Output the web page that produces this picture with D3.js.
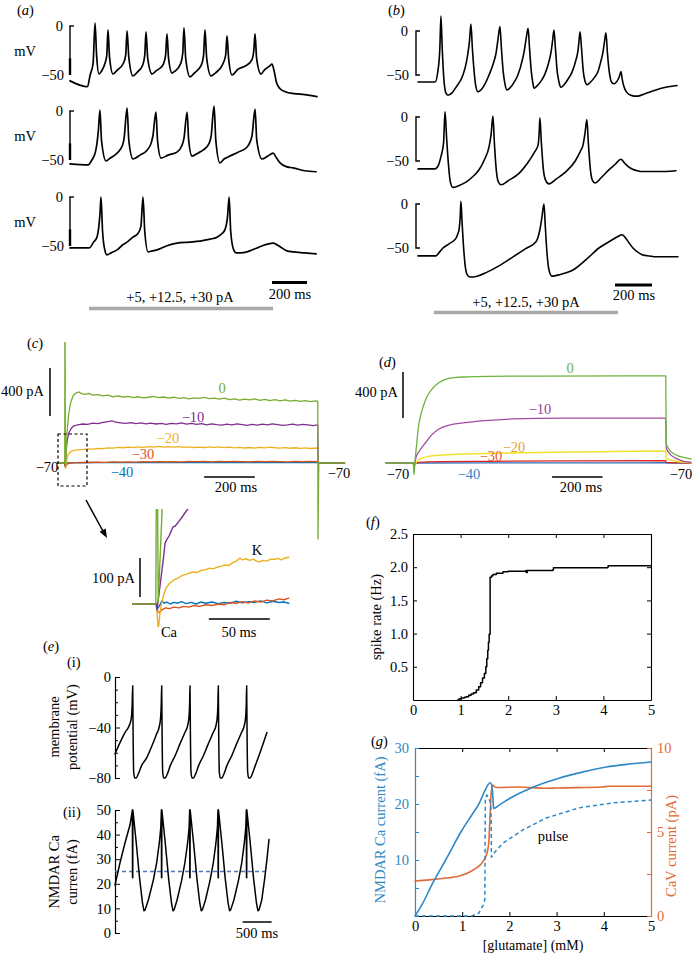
<!DOCTYPE html>
<html><head><meta charset="utf-8">
<script src="https://cdn.jsdelivr.net/npm/d3@7"></script>
<style>
body{margin:0;background:#fff}
svg{display:block}
text{font-family:"Liberation Serif","Times New Roman",serif;}
</style>
</head><body>
<svg id="fig" width="692" height="954"></svg>
<script>
// ---------------- DATA ----------------
// (a) recorded traces: [time ms, mV]
const aRow1 = [[0,-56],[100,-62],[115,-50],[132,-38],[143,3],[152,-30],[166,-49],[180,-46],[200,-38],[210,-30],[217,-4],[226,-32],[246,-49],[270,-45],[305,-38],[318,-30],[326,-5],[336,-32],[360,-51],[385,-47],[415,-40],[427,-30],[434,-6],[444,-33],[469,-49],[490,-46],[530,-40],[546,-30],[554,-8],[563,-33],[583,-48],[600,-46],[633,-38],[644,-28],[651,-2],[661,-33],[686,-52],[710,-48],[750,-40],[763,-30],[771,-4],[781,-33],[806,-51],[830,-48],[870,-40],[889,-30],[897,-10],[906,-33],[926,-50],[960,-44],[1010,-40],[1040,-34],[1050,-25],[1057,-8],[1066,-33],[1091,-49],[1110,-45],[1140,-41],[1154,-39],[1165,-45],[1180,-58],[1200,-64],[1230,-67],[1280,-69],[1340,-70],[1411,-72]];
const aRow2 = [[0,-54],[103,-55],[125,-50],[145,-42],[154,-33],[162,-20],[171,1],[180,-30],[206,-51],[230,-48],[269,-43],[300,-35],[309,-28],[326,3],[336,-30],[360,-49],[400,-45],[440,-40],[465,-32],[474,-25],[491,-1],[500,-30],[520,-48],[560,-45],[611,-42],[640,-35],[651,-28],[669,-1],[678,-30],[697,-46],[730,-43],[760,-40],[795,-33],[806,-26],[823,5],[833,-30],[857,-53],[880,-49],[914,-46],[960,-42],[1011,-37],[1030,-31],[1040,-25],[1057,2],[1067,-30],[1097,-49],[1130,-46],[1160,-43],[1180,-48],[1200,-53],[1240,-57],[1274,-58],[1340,-61],[1406,-62]];
const aRow3 = [[0,-52],[109,-52],[135,-46],[154,-41],[166,-28],[172,-15],[177,0],[186,-35],[200,-55],[211,-59],[235,-57],[269,-54],[300,-49],[326,-46],[360,-41],[389,-37],[405,-30],[417,0],[427,-35],[446,-56],[470,-55],[497,-54],[550,-50],[611,-47],[680,-46],[743,-45],[800,-43],[840,-41],[870,-37],[886,-33],[900,-20],[909,0],[918,-35],[935,-54],[949,-57],[975,-57],[1011,-56],[1040,-54],[1069,-52],[1110,-49],[1160,-47],[1185,-49],[1211,-52],[1240,-55],[1274,-56],[1340,-57],[1406,-58]];
// (b) model traces: [time ms, mV]
const bRow1 = [[0,-58],[92,-58],[108,-45],[118,-20],[124,17],[131,-20],[140,-55],[150,-70],[162,-73],[185,-70],[205,-64],[243,-50],[262,-35],[270,-25],[278,-12],[286,8],[294,-20],[303,-45],[312,-62],[324,-69],[345,-66],[365,-59],[384,-50],[410,-35],[422,-25],[432,-10],[443,5],[451,-20],[460,-45],[470,-60],[481,-67],[500,-64],[520,-58],[540,-50],[565,-32],[575,-22],[585,-8],[595,3],[603,-20],[612,-45],[620,-58],[627,-65],[645,-62],[665,-57],[686,-49],[710,-33],[720,-23],[728,-10],[735,1],[743,-20],[752,-45],[762,-58],[773,-64],[790,-61],[810,-55],[832,-47],[855,-32],[865,-22],[870,-12],[876,-1],[884,-20],[893,-45],[903,-57],[914,-61],[933,-58],[953,-53],[973,-46],[990,-33],[1000,-24],[1008,-12],[1016,-2],[1024,-25],[1033,-45],[1041,-55],[1049,-59],[1060,-60],[1076,-57],[1088,-52],[1097,-46],[1104,-55],[1113,-63],[1130,-70],[1151,-73],[1170,-74],[1189,-74],[1230,-71],[1286,-67],[1340,-64],[1400,-62]];
const bRow2 = [[0,-59],[92,-59],[110,-55],[124,-45],[138,-30],[146,6],[155,-25],[165,-55],[175,-74],[189,-80],[220,-78],[259,-74],[300,-67],[330,-60],[360,-48],[384,-34],[395,-20],[405,1],[413,-30],[423,-60],[435,-74],[449,-77],[490,-72],[546,-64],[600,-50],[630,-40],[649,-32],[655,-18],[659,-1],[667,-30],[678,-60],[690,-72],[708,-76],[750,-70],[800,-62],[850,-50],[880,-38],[892,-32],[903,-18],[913,-3],[921,-30],[932,-60],[943,-72],[957,-75],[990,-69],[1032,-60],[1065,-54],[1097,-48],[1115,-52],[1135,-56],[1157,-59],[1185,-61],[1216,-62],[1300,-62],[1394,-61]];
const bRow3 = [[0,-59],[97,-59],[115,-55],[135,-50],[170,-45],[205,-39],[215,-34],[222,-29],[228,-15],[232,3],[238,-20],[245,-45],[255,-70],[265,-80],[281,-83],[320,-82],[368,-78],[440,-70],[514,-60],[580,-51],[638,-43],[650,-37],[659,-29],[670,-15],[681,0],[688,-25],[697,-55],[708,-75],[724,-82],[770,-80],[838,-75],[910,-63],[978,-50],[1040,-42],[1080,-37],[1103,-35],[1120,-38],[1140,-44],[1162,-50],[1190,-55],[1216,-58],[1250,-59],[1286,-60],[1405,-60]];
const stimText = "+5, +12.5, +30 pA";
const stepLevels = ["0","−10","−20","−30","−40"];

// (c) recorded voltage-clamp currents: [time ms, pA]
const cV0 = [[-30,0],[-1,0],[-0.5,1008],[0.5,1008],[1.5,-30],[4,60],[8,250],[14,400],[22,500],[32,560],[45,585],[55,592],[65,578],[80,572],[95,580],[110,566],[130,570],[150,560],[170,565],[190,552],[210,560],[230,548],[250,556],[270,545],[290,552],[310,542],[330,548],[350,556],[370,544],[390,550],[410,540],[430,548],[450,538],[470,545],[490,535],[510,542],[530,538],[550,546],[570,536],[590,540],[610,532],[630,540],[650,528],[670,535],[690,524],[710,532],[730,526],[750,535],[770,522],[790,530],[810,520],[830,528],[850,518],[870,526],[890,516],[910,522],[930,514],[950,520],[970,512],[990,518],[999,515],[1000,-633],[1003,0],[1105,0]];
const cV10 = [[-30,0],[-1,0],[0,-20],[3,60],[8,180],[15,250],[25,290],[35,310],[50,318],[70,325],[90,322],[110,332],[130,328],[150,338],[170,345],[185,352],[200,340],[220,335],[240,330],[260,336],[280,328],[300,334],[320,326],[340,332],[360,325],[380,330],[400,322],[420,330],[440,326],[460,334],[480,324],[500,330],[520,322],[540,328],[560,318],[580,326],[600,320],[620,316],[640,324],[660,318],[680,326],[700,320],[720,314],[740,322],[760,316],[780,324],[800,318],[820,326],[840,320],[860,314],[880,318],[900,324],[920,316],[940,322],[960,318],[980,312],[999,318],[1000,0],[1105,0]];
const cV20 = [[-30,0],[-1,0],[0,-30],[1.5,-45],[4,-10],[8,40],[14,75],[22,95],[35,105],[50,110],[70,112],[90,118],[110,116],[130,122],[150,120],[170,126],[190,124],[210,130],[230,127],[250,132],[270,128],[290,135],[310,130],[330,136],[350,132],[370,138],[390,133],[410,137],[430,132],[450,136],[470,130],[490,134],[510,128],[530,133],[550,129],[570,135],[590,130],[610,134],[630,128],[650,132],[670,126],[690,130],[710,125],[730,129],[750,124],[770,130],[790,126],[810,132],[830,127],[850,124],[870,128],[890,123],[910,127],[930,122],[950,126],[970,121],[999,125],[1000,0],[1105,0]];
const cV30 = [[-30,0],[-1,0],[0,-20],[2,-35],[6,-15],[15,-2],[40,3],[70,5],[100,4],[130,7],[160,6],[190,9],[220,7],[250,10],[280,8],[310,11],[340,9],[370,12],[400,9],[430,12],[460,10],[490,14],[520,11],[550,13],[580,10],[610,13],[640,11],[670,14],[700,12],[730,10],[760,13],[790,11],[820,14],[850,12],[880,10],[910,13],[940,11],[970,13],[999,12],[1000,0],[1105,0]];
const cV40 = [[-30,0],[-1,0],[0,-10],[3,-15],[8,0],[30,3],[60,2],[100,4],[150,3],[200,5],[250,3],[300,6],[350,4],[400,5],[450,3],[500,6],[550,4],[600,5],[650,3],[700,6],[750,4],[800,5],[850,3],[900,5],[950,4],[999,5],[1000,0],[1105,0]];
// (c) inset (first ~100 ms): [time ms, pA]
const insetGreen = [[-20,0],[-1,0],[-0.5,300],[0.4,300],[1,5],[5,300]];
const insetPurple = [[-20,0],[-0.5,0],[0,-15],[1,10],[3,60],[5,110],[6.6,156],[8,165],[10,175],[13,197],[15,200],[18,212],[21,225],[24.6,241],[27,250]];
const insetYellow = [[-20,0],[-1,0],[0,-20],[0.8,-58],[1.5,-55],[2.5,-20],[4,5],[6,30],[8,44],[10,52],[12,57],[14,62],[17,66],[21,74],[24,76],[27,80],[30,82],[33,81],[36,86],[40,88],[43,92],[46,90],[50,95],[53,97],[56,100],[59,99],[62,106],[65,110],[68,118],[70,113],[73,116],[76,112],[79,115],[82,109],[84,108],[87,112],[90,110],[93,115],[96,114],[99,117],[102,113],[105,118],[108,120]];
const insetBlue = [[-20,0],[-0.5,0],[0.5,-12],[2,-5],[4,8],[6,2],[8,5],[11,0],[14,4],[17,2],[20,6],[24,1],[28,4],[32,0],[36,5],[40,2],[45,5],[50,1],[55,4],[60,2],[65,7],[70,3],[75,6],[80,4],[85,8],[90,3],[95,7],[100,4],[104,5],[108,2]];
const insetRed = [[-20,0],[-0.5,0],[0.5,-20],[2,-22],[4,-15],[7,-10],[10,-12],[14,-8],[18,-10],[22,-6],[26,-8],[30,-4],[35,-6],[40,-2],[45,-4],[50,0],[55,-2],[60,4],[65,2],[70,6],[75,3],[80,8],[85,5],[90,10],[95,8],[100,13],[104,11],[108,15]];

// (d) model voltage-clamp currents: [time ms, pA]
const dV0 = [[-111,0],[-3,0],[0,-100],[2,-50],[5,40],[10,150],[16,287],[25,400],[36,487],[50,570],[75,652],[100,700],[127,730],[160,742],[194,748],[300,754],[500,756],[999,757],[1001,170],[1015,110],[1040,70],[1070,48],[1099,36]];
const dV10 = [[-111,0],[-3,0],[0,-30],[3,0],[8,50],[20,100],[48,183],[70,245],[99,296],[140,330],[194,348],[280,368],[393,383],[600,390],[999,391],[1001,130],[1015,80],[1040,40],[1070,15],[1099,5]];
const dV20 = [[-111,0],[-3,0],[0,-40],[4,-15],[10,10],[30,40],[60,58],[100,68],[200,78],[300,84],[500,92],[700,97],[999,104],[1001,40],[1030,20],[1060,8],[1099,3]];
const dV30 = [[-111,0],[-3,0],[0,-20],[5,-5],[20,5],[100,12],[300,15],[600,18],[999,20],[1001,5],[1099,0]];
const dV40 = [[-111,0],[-3,0],[0,-8],[5,-2],[20,0],[500,1],[999,2],[1001,0],[1099,0]];

// (e) (i) membrane potential [ms, mV]; (ii) NMDAR Ca current [ms, fA]
const eVm = [[0,-61],[86,-52],[172,-44],[240,-39],[280,-33],[296,-22],[305,-7],[312,-45],[322,-75],[340,-80],[365,-80],[400,-77],[460,-70],[546,-64],[632,-55],[718,-45],[760,-40],[785,-33],[797,-22],[805,-7],[812,-45],[822,-75],[840,-80],[865,-80],[900,-77],[955,-70],[1040,-62],[1120,-53],[1205,-44],[1250,-39],[1275,-32],[1286,-22],[1293,-7],[1300,-45],[1310,-75],[1328,-80],[1353,-80],[1388,-77],[1443,-70],[1528,-62],[1608,-53],[1693,-44],[1738,-39],[1763,-32],[1774,-22],[1781,-7],[1788,-45],[1798,-75],[1816,-80],[1841,-80],[1876,-77],[1931,-70],[2016,-62],[2096,-53],[2181,-44],[2226,-39],[2252,-32],[2263,-22],[2270,-7],[2277,-45],[2287,-75],[2305,-80],[2330,-80],[2365,-77],[2420,-70],[2500,-60],[2560,-52],[2620,-44]];
const eNmda = [[0,19.5],[86,28.5],[172,36.6],[259,44],[300,50],[302,22.5],[304,50],[306,22.5],[308,50],[365,37],[425,22],[475,12],[500,9],[520,9.5],[575,13.4],[661,21.5],[718,28.5],[764,36.6],[790,43],[800,50],[802,22.5],[804,50],[806,22.5],[808,50],[865,37],[925,22],[975,12],[1000,9],[1020,9.5],[1070,13.4],[1150,21.5],[1205,28.5],[1252,36.6],[1278,43],[1288,50],[1290,22.5],[1292,50],[1294,22.5],[1296,50],[1353,37],[1413,22],[1463,12],[1488,9],[1508,9.5],[1560,13.4],[1640,21.5],[1695,28.5],[1740,36.6],[1766,43],[1776,50],[1778,22.5],[1780,50],[1782,22.5],[1784,50],[1841,37],[1901,22],[1951,12],[1976,9],[1996,9.5],[2050,13.4],[2130,21.5],[2185,28.5],[2230,36.6],[2255,43],[2265,50],[2267,22.5],[2269,50],[2271,22.5],[2273,50],[2330,37],[2390,22],[2440,12],[2465,9],[2485,9.5],[2530,13.4],[2580,22],[2620,30],[2655,38]];
const eThreshold = [[0,25],[2640,25]];
const eVTicks = [0,-40,-80], eVMinor = [-10,-20,-30,-50,-60,-70];
const eITicks = [0,10,20,30,40,50], eIMinor = [5,15,25,35,45];

// (f) spike rate vs glutamate [mM, Hz]
const fRate = [[0.94,0],[0.97,0.02],[1.02,0.03],[1.08,0.04],[1.12,0.05],[1.17,0.07],[1.22,0.09],[1.27,0.11],[1.33,0.15],[1.38,0.2],[1.42,0.26],[1.46,0.33],[1.5,0.4],[1.53,0.5],[1.55,0.62],[1.57,0.75],[1.585,0.87],[1.6,0.99],[1.62,1.85],[1.65,1.87],[1.68,1.89],[1.75,1.91],[1.89,1.93],[2.0,1.94],[2.37,1.95],[2.38,1.92],[2.4,1.95],[2.94,1.96],[2.95,1.99],[4.09,2.0],[4.1,2.02],[5,2.02]];
const fXTicks = [0,1,2,3,4,5], fYTicks = [0.5,1.0,1.5,2.0,2.5];

// (g) currents vs glutamate
const gNmda = [[0,0],[0.16,2.2],[0.37,5.8],[0.65,10],[1.0,15.4],[1.2,18],[1.36,20.1],[1.47,22.2],[1.55,23.5],[1.6,23.8],[1.64,22.5],[1.655,20.5],[1.665,19.2],[1.8,19.9],[2.07,21.3],[2.5,23],[3.05,24.6],[3.5,25.6],[4.05,26.6],[4.5,27.1],[5,27.5]];
const gPulse = [[0,0],[1.2,0],[1.35,0.5],[1.45,2],[1.48,3],[1.49,21],[1.52,21.6],[1.56,21.2],[1.6,20.2],[1.61,19],[1.62,10.5],[1.7,11.5],[1.86,13],[2.29,15.4],[2.78,17.5],[3.47,19.3],[4.2,20.2],[5,20.7]];
const gCav = [[0,2.08],[0.3,2.15],[0.66,2.26],[0.9,2.35],[1.02,2.45],[1.15,2.6],[1.3,2.86],[1.4,3.1],[1.46,3.33],[1.52,3.7],[1.56,4.3],[1.59,5.9],[1.61,7.2],[1.63,7.6],[1.65,7.8],[1.68,7.7],[1.75,7.65],[2.2,7.68],[2.78,7.6],[3.0,7.62],[3.98,7.68],[4.1,7.72],[5,7.72]];
const gXTicks = [0,1,2,3,4,5], gLTicks = [10,20,30], gLMinor = [0,5,15,25], gRTicks = [0,5,10], gRMinor = [2.5,7.5];

// ---------------- DRAWING ----------------
const FONT = '"Liberation Serif","Times New Roman",serif';
const FS = 14.5;
const svg = d3.select("#fig");
svg.append("rect").attr("width",692).attr("height",954).attr("fill","#fff");
const defs = svg.append("defs");

function trace(data, xs, ys, color, w, opts = {}) {
  const gen = d3.line().x(d => xs(d[0])).y(d => ys(d[1])).curve(opts.curve || d3.curveLinear);
  const p = svg.append("path").attr("d", gen(data)).attr("fill", "none")
    .attr("stroke", color).attr("stroke-width", w)
    .attr("stroke-linejoin", "round").attr("stroke-linecap", opts.dash ? "butt" : "round");
  if (opts.dash) p.attr("stroke-dasharray", opts.dash);
  if (opts.clip) p.attr("clip-path", `url(#${opts.clip})`);
  return p;
}
function T(x, y, s, o = {}) {
  return svg.append("text").attr("x", x).attr("y", y).text(s)
    .attr("font-size", o.size || FS).attr("fill", o.fill || "#000")
    .attr("text-anchor", o.anchor || "start");
}
function RT(x, y, s, o = {}) {
  return svg.append("text").attr("transform", `translate(${x},${y}) rotate(-90)`)
    .attr("text-anchor", "middle").attr("font-size", o.size || FS).attr("fill", o.fill || "#000").text(s);
}
function seg(x1, y1, x2, y2, color, w, dash) {
  const l = svg.append("line").attr("x1", x1).attr("y1", y1).attr("x2", x2).attr("y2", y2)
    .attr("stroke", color).attr("stroke-width", w);
  if (dash) l.attr("stroke-dasharray", dash);
  return l;
}
function panelLabel(x, y, letter) {
  const t = svg.append("text").attr("x", x).attr("y", y).attr("font-size", FS);
  t.append("tspan").text("(");
  t.append("tspan").attr("font-style", "italic").text(letter);
  t.append("tspan").text(")");
}
function styleAxis(g, color, labels) {
  g.attr("font-family", FONT).attr("font-size", FS);
  g.select("path.domain").attr("stroke", color).attr("stroke-width", 1.1);
  g.selectAll(".tick line").attr("stroke", color).attr("stroke-width", 1);
  g.selectAll(".tick text").attr("fill", color);
  if (!labels) g.selectAll(".tick text").remove();
  return g;
}
function clipRect(id, x, y, w, h) {
  defs.append("clipPath").attr("id", id).append("rect").attr("x", x).attr("y", y).attr("width", w).attr("height", h);
}

// ===== (a) =====
panelLabel(17, 15, "a");
const xA = d3.scaleLinear().domain([0, 1411]).range([70, 317]);
const aZero = [26, 111, 197];
[aRow1, aRow2, aRow3].forEach((row, i) => {
  const y = d3.scaleLinear().domain([-50, 0]).range([aZero[i] + 49, aZero[i]]);
  seg(70, y(0), 70, y(-50), "#000", 1.4);
  seg(70, y(-33), 70, y(-50), "#000", 2.4);
  seg(69.3, y(0), 74, y(0), "#000", 1.4);
  trace(row, xA, y, "#000", 1.7, { curve: d3.curveMonotoneX });
  T(63, y(0) + 5, "0", { anchor: "end" });
  T(64, y(-50) + 5, "−50", { anchor: "end" });
  T(25, y(-25) + 5, "mV", { anchor: "middle" });
});
seg(xA(1154), 282.5, xA(1154 + 200), 282.5, "#000", 3);
T(290, 299, "200 ms", { anchor: "middle" });
T(180, 302, stimText, { anchor: "middle" });
seg(xA(109), 308.5, xA(1160), 308.5, "#a9a9a9", 3.5);

// ===== (b) =====
panelLabel(388, 15, "b");
const xB = d3.scaleLinear().domain([0, 1400]).range([418, 677]);
const bZero = [31, 117, 204];
[bRow1, bRow2, bRow3].forEach((row, i) => {
  const y = d3.scaleLinear().domain([-50, 0]).range([bZero[i] + 44, bZero[i]]);
  svg.append("path").attr("d", `M420,${y(0)}H416V${y(-50)}H420`).attr("fill", "none").attr("stroke", "#000").attr("stroke-width", 1.4);
  trace(row, xB, y, "#000", 1.6, { curve: d3.curveMonotoneX });
  T(408, y(0) + 5, "0", { anchor: "end" });
  T(409, y(-50) + 5, "−50", { anchor: "end" });
});
seg(xB(1065), 285, xB(1065 + 200), 285, "#000", 3);
T(634, 300, "200 ms", { anchor: "middle" });
T(526, 307, stimText, { anchor: "middle" });
seg(xB(86), 312.5, xB(1081), 312.5, "#a9a9a9", 3.5);

// ===== (c) =====
const cBlue = "#0072bd", cRed = "#d95319", cYel = "#edb120", cPur = "#7e2f8e", cGrn = "#77ac30";
panelLabel(27, 348, "c");
const xC = d3.scaleLinear().domain([0, 1000]).range([65, 318]);
const yC = d3.scaleLinear().domain([0, 400]).range([463, 415]);
clipRect("clipC", 40, 342, 320, 210);
trace(cV40, xC, yC, cBlue, 1.3, { clip: "clipC" });
trace(cV30, xC, yC, cRed, 1.3, { clip: "clipC" });
trace(cV20, xC, yC, cYel, 1.3, { clip: "clipC" });
trace(cV10, xC, yC, cPur, 1.3, { clip: "clipC" });
trace(cV0, xC, yC, cGrn, 1.3, { clip: "clipC" });
seg(50, 416, 50, 416 - (yC(0) - yC(400)), "#000", 1.5);
T(44, 396, "400 pA", { anchor: "end" });
T(222, 393, stepLevels[0], { anchor: "middle", fill: cGrn });
T(193, 422, stepLevels[1], { anchor: "middle", fill: cPur });
T(168, 443, stepLevels[2], { anchor: "middle", fill: cYel });
T(143, 459, stepLevels[3], { anchor: "middle", fill: cRed });
T(122, 477, stepLevels[4], { anchor: "middle", fill: cBlue });
T(47, 472, "−70", { anchor: "middle" });
T(339, 478, "−70", { anchor: "middle" });
seg(xC(550), 477, xC(550 + 200), 477, "#000", 1.5);
T(236, 492, "200 ms", { anchor: "middle" });
svg.append("rect").attr("x", 58).attr("y", 434).attr("width", 29).attr("height", 52)
  .attr("fill", "none").attr("stroke", "#000").attr("stroke-width", 1.2).attr("stroke-dasharray", "3,2.5");
// arrow
seg(86, 500, 104, 533, "#000", 1.5);
(function () {
  const x2 = 107, y2 = 538, ang = Math.atan2(538 - 500, 107 - 86);
  const L = 9, Wd = 3.5;
  const bx = x2 - L * Math.cos(ang), by = y2 - L * Math.sin(ang);
  const px = -Math.sin(ang) * Wd, py = Math.cos(ang) * Wd;
  svg.append("path").attr("d", `M${x2},${y2}L${bx + px},${by + py}L${bx - px},${by - py}Z`).attr("fill", "#000");
})();
// inset
const xI = d3.scaleLinear().domain([0, 50]).range([157, 218]);
const yI = d3.scaleLinear().domain([0, 100]).range([604, 565]);
clipRect("clipI", 130, 509, 165, 140);
trace(insetBlue, xI, yI, cBlue, 1.4, { clip: "clipI" });
trace(insetRed, xI, yI, cRed, 1.4, { clip: "clipI" });
trace(insetYellow, xI, yI, cYel, 1.4, { clip: "clipI" });
trace(insetPurple, xI, yI, cPur, 1.4, { clip: "clipI" });
trace(insetGreen, xI, yI, cGrn, 1.4, { clip: "clipI" });
seg(140, 597, 140, 597 - (yI(0) - yI(100)), "#000", 1.5);
T(135, 583, "100 pA", { anchor: "end" });
seg(xI(42.5), 619, xI(42.5 + 50), 619, "#000", 1.5);
T(239, 637, "50 ms", { anchor: "middle" });
T(169, 637, "Ca", { anchor: "middle" });
T(257, 555, "K", { anchor: "middle" });

// ===== (d) =====
const dGrn = "#6db33f", dPur = "#a349a4", dYel = "#efe22a", dRed = "#e02424", dBlue = "#2f6fba";
panelLabel(379, 367, "d");
const xD = d3.scaleLinear().domain([0, 1000]).range([414, 666]);
const yD = d3.scaleLinear().domain([0, 400]).range([463, 417]);
trace(dV40, xD, yD, dBlue, 1.3, { curve: d3.curveMonotoneX });
trace(dV30, xD, yD, dRed, 1.3, { curve: d3.curveMonotoneX });
trace(dV20, xD, yD, dYel, 1.5, { curve: d3.curveMonotoneX });
trace(dV10, xD, yD, dPur, 1.3, { curve: d3.curveMonotoneX });
trace(dV0, xD, yD, dGrn, 1.3, { curve: d3.curveMonotoneX });
seg(403, 418, 403, 418 - (yD(0) - yD(400)), "#000", 1.5);
T(398, 397, "400 pA", { anchor: "end" });
T(570, 373, stepLevels[0], { anchor: "middle", fill: dGrn });
T(540, 414, stepLevels[1], { anchor: "middle", fill: "#9b3f9b" });
T(514, 452, stepLevels[2], { anchor: "middle", fill: "#f0a22e" });
T(491, 461, stepLevels[3], { anchor: "middle", fill: "#e2612f" });
T(469, 479, stepLevels[4], { anchor: "middle", fill: "#2f86c8" });
T(398, 479, "−70", { anchor: "middle" });
T(681, 479, "−70", { anchor: "middle" });
seg(xD(548), 477, xD(548 + 200), 477, "#000", 1.5);
T(581, 492, "200 ms", { anchor: "middle" });

// ===== (e) =====
panelLabel(43, 651, "e");
T(67, 667, "(i)");
T(63, 817, "(ii)");
const xE = d3.scaleLinear().domain([0, 500]).range([115, 144]);
const yE1 = d3.scaleLinear().domain([-80, 0]).range([778, 677]);
const yE2 = d3.scaleLinear().domain([0, 50]).range([933, 810]);
styleAxis(svg.append("g").attr("transform", "translate(115,0)")
  .call(d3.axisLeft(yE1).tickValues(eVMinor).tickSizeInner(-3).tickSizeOuter(0)), "#000", false);
styleAxis(svg.append("g").attr("transform", "translate(115,0)")
  .call(d3.axisLeft(yE1).tickValues(eVTicks).tickSizeInner(-5).tickSizeOuter(0).tickPadding(4).tickFormat(d3.format("d"))), "#000", true);
styleAxis(svg.append("g").attr("transform", "translate(115,0)")
  .call(d3.axisLeft(yE2).tickValues(eIMinor).tickSizeInner(-3).tickSizeOuter(0)), "#000", false);
styleAxis(svg.append("g").attr("transform", "translate(115,0)")
  .call(d3.axisLeft(yE2).tickValues(eITicks).tickSizeInner(-5).tickSizeOuter(0).tickPadding(4).tickFormat(d3.format("d"))), "#000", true);
trace(eVm, xE, yE1, "#000", 1.5, { curve: d3.curveMonotoneX });
trace(eThreshold, xE, yE2, "#4a78c0", 1.5, { dash: "4,3" });
trace(eNmda, xE, yE2, "#000", 1.5);
RT(59, 727, "membrane");
RT(77, 727, "potential (mV)");
RT(59, 872, "NMDAR Ca");
RT(77, 872, "curren (fA)");
seg(xE(2200), 922, xE(2200 + 500), 922, "#000", 1.5);
T(257, 938, "500 ms", { anchor: "middle" });

// ===== (f) =====
panelLabel(366, 527, "f");
const xF = d3.scaleLinear().domain([0, 5]).range([413, 651]);
const yF = d3.scaleLinear().domain([0, 2.5]).range([700, 534]);
styleAxis(svg.append("g").attr("transform", "translate(0,700)")
  .call(d3.axisBottom(xF).tickValues(fXTicks).tickSizeInner(-4).tickSizeOuter(0).tickPadding(5).tickFormat(d3.format("d"))), "#000", true);
styleAxis(svg.append("g").attr("transform", "translate(0,534)")
  .call(d3.axisTop(xF).tickValues(fXTicks).tickSizeInner(-4).tickSizeOuter(0)), "#000", false);
styleAxis(svg.append("g").attr("transform", "translate(413,0)")
  .call(d3.axisLeft(yF).tickValues(fYTicks).tickSizeInner(-4).tickSizeOuter(0).tickPadding(5).tickFormat(d3.format(".1f"))), "#000", true);
styleAxis(svg.append("g").attr("transform", "translate(651,0)")
  .call(d3.axisRight(yF).tickValues(fYTicks).tickSizeInner(-4).tickSizeOuter(0)), "#000", false);
trace(fRate, xF, yF, "#000", 1.5, { curve: d3.curveStepAfter });
RT(381, 617, "spike rate (Hz)");

// ===== (g) =====
const gBlue = "#2e88c6", gOr = "#df6a35";
panelLabel(371, 746, "g");
const xG = d3.scaleLinear().domain([0, 5]).range([415, 651]);
const yGL = d3.scaleLinear().domain([0, 30]).range([916, 748]);
const yGR = d3.scaleLinear().domain([0, 10]).range([916, 748]);
styleAxis(svg.append("g").attr("transform", "translate(0,916)")
  .call(d3.axisBottom(xG).tickValues(gXTicks).tickSizeInner(-4).tickSizeOuter(0).tickPadding(5).tickFormat(d3.format("d"))), "#000", true);
styleAxis(svg.append("g").attr("transform", "translate(0,748)")
  .call(d3.axisTop(xG).tickValues(gXTicks).tickSizeInner(-4).tickSizeOuter(0)), "#000", false);
styleAxis(svg.append("g").attr("transform", "translate(415,0)")
  .call(d3.axisLeft(yGL).tickValues(gLMinor).tickSizeInner(-4).tickSizeOuter(0)), gBlue, false);
styleAxis(svg.append("g").attr("transform", "translate(415,0)")
  .call(d3.axisLeft(yGL).tickValues(gLTicks).tickSizeInner(-4).tickSizeOuter(0).tickPadding(6).tickFormat(d3.format("d"))), gBlue, true);
styleAxis(svg.append("g").attr("transform", "translate(651,0)")
  .call(d3.axisRight(yGR).tickValues(gRMinor).tickSizeInner(-4).tickSizeOuter(0)), gOr, false);
styleAxis(svg.append("g").attr("transform", "translate(651,0)")
  .call(d3.axisRight(yGR).tickValues(gRTicks).tickSizeInner(-4).tickSizeOuter(0).tickPadding(6).tickFormat(d3.format("d"))), gOr, true);
trace(gCav, xG, yGR, gOr, 1.6, { curve: d3.curveMonotoneX });
trace(gPulse, xG, yGL, gBlue, 1.5, { dash: "4,3" });
trace(gNmda, xG, yGL, gBlue, 1.6, { curve: d3.curveMonotoneX });
RT(385, 830, "NMDAR Ca current (fA)", { fill: gBlue });
RT(676, 846, "CaV current (pA)", { fill: gOr });
T(553, 841, "pulse", { anchor: "middle" });
T(533, 950, "[glutamate] (mM)", { anchor: "middle", size: 14 });
</script>
</body></html>
